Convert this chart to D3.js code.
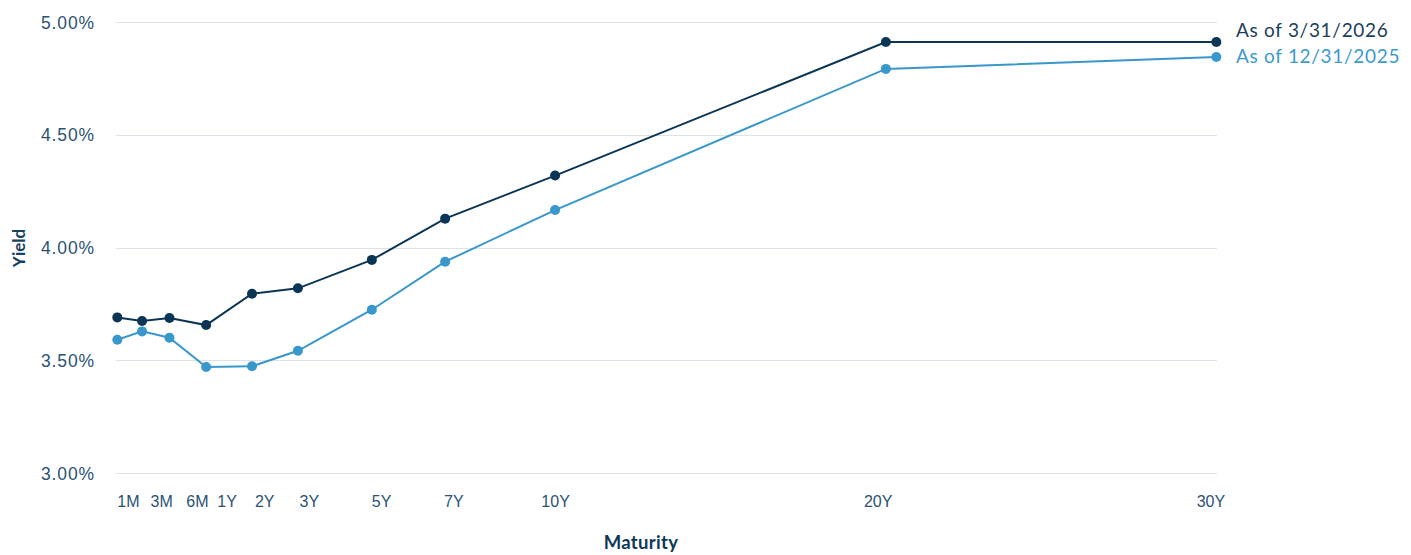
<!DOCTYPE html>
<html>
<head>
<meta charset="utf-8">
<script src="https://cdn.jsdelivr.net/npm/d3@7"></script>
<style>
  body { margin: 0; background: #fff; }
  svg { display: block; font-family: Lato, "Open Sans", sans-serif; }
  .grid line { stroke: #dde1e8; stroke-width: 1; }
  .axis text { fill: #2b5273; }
</style>
</head>
<body>
<svg width="1411" height="555"></svg>
<script>
// maturities and where each sits on the (uneven) horizontal axis, in axis units
var maturities = ["1M", "3M", "6M", "1Y", "2Y", "3Y", "5Y", "7Y", "10Y", "20Y", "30Y"];
var pointX = [-3.26, -2.51, -1.68, -0.57, 0.82, 2.21, 4.45, 6.67, 10, 20.02, 30.03];
// tick labels are drawn a little off the points in the original
var tickX = [-2.94, -1.93, -0.85, 0.05, 1.19, 2.54, 4.73, 6.92, 10, 19.77, 29.85];

var yieldMar2026 = [3.690, 3.674, 3.687, 3.656, 3.795, 3.819, 3.945, 4.128, 4.319, 4.911, 4.911];
var yieldDec2025 = [3.591, 3.628, 3.600, 3.470, 3.473, 3.542, 3.724, 3.937, 4.166, 4.792, 4.845];

var seriesNames = ["As of 3/31/2026", "As of 12/31/2025"];
var seriesColors = ["#0b3555", "#3897cb"];
var yTicks = [3.0, 3.5, 4.0, 4.5, 5.0];

var svg = d3.select("svg"),
    margin = {top: 22, right: 194, bottom: 82, left: 116},
    width = svg.attr("width") - margin.left - margin.right,
    height = svg.attr("height") - margin.top - margin.bottom;

var x = d3.scaleLinear().domain([-3.3, 30.05]).range([0, width]),
    y = d3.scaleLinear().domain([3, 5]).range([height, 0]);

var g = svg.append("g")
    .attr("transform", "translate(" + margin.left + "," + margin.top + ")");

// gridlines
g.append("g")
    .attr("class", "grid")
    .selectAll("line")
    .data(yTicks)
    .enter().append("line")
      .attr("x1", 0)
      .attr("x2", width)
      .attr("y1", function(d) { return Math.round(y(d)) + 0.5; })
      .attr("y2", function(d) { return Math.round(y(d)) + 0.5; });

// y axis
var yAxis = g.append("g")
    .attr("class", "axis axis--y")
    .attr("transform", "translate(-21,0)")
    .call(d3.axisLeft(y).tickValues(yTicks).tickSize(0)
      .tickFormat(function(d) { return d.toFixed(2) + "%"; }));
yAxis.select(".domain").remove();
yAxis.selectAll("text")
    .style("font-size", "17.5px")
    .style("letter-spacing", "0.9px")
    .attr("x", 0).attr("dy", "0.35em");

// x axis
var xAxis = g.append("g")
    .attr("class", "axis axis--x")
    .attr("transform", "translate(0," + (height + 23) + ")")
    .call(d3.axisBottom(x).tickValues(tickX).tickSize(0)
      .tickFormat(function(d, i) { return maturities[i]; }));
xAxis.select(".domain").remove();
xAxis.selectAll("text").style("font-size", "16px").attr("y", 0).attr("dy", "0.71em");

// axis titles
svg.append("text")
    .attr("transform", "translate(25,248) rotate(-90)")
    .attr("text-anchor", "middle")
    .style("font-size", "17px")
    .style("font-weight", "700")
    .style("fill", "#17415f")
    .text("Yield");

svg.append("text")
    .attr("x", 641)
    .attr("y", 549)
    .attr("text-anchor", "middle")
    .style("font-size", "18.5px")
    .style("font-weight", "700")
    .style("letter-spacing", "0.3px")
    .style("fill", "#0e3858")
    .text("Maturity");

var seriesData = [yieldMar2026, yieldDec2025];

var line = d3.line()
    .x(function(d, i) { return x(pointX[i]); })
    .y(function(d) { return y(d); });

var layer = g.selectAll(".series")
    .data(seriesData)
    .enter().append("g")
      .attr("class", "series");

layer.append("path")
    .attr("fill", "none")
    .attr("stroke", function(d, i) { return seriesColors[i]; })
    .attr("stroke-width", 2)
    .attr("d", line);

layer.each(function(vals, s) {
  d3.select(this).selectAll("circle")
      .data(vals)
      .enter().append("circle")
        .attr("cx", function(d, i) { return x(pointX[i]); })
        .attr("cy", function(d) { return y(d); })
        .attr("r", 5)
        .attr("fill", seriesColors[s]);
});

// labels at line ends
g.selectAll(".end-label")
    .data(seriesNames)
    .enter().append("text")
      .attr("class", "end-label")
      .attr("x", width + 19)
      .attr("y", function(d, i) { return 15 + i * 26; })
      .style("font-size", "19px")
      .style("letter-spacing", "0.7px")
      .style("fill", function(d, i) { return i === 0 ? "#1c3e5c" : "#3b9ad0"; })
      .text(function(d) { return d; });
</script>
</body>
</html>
